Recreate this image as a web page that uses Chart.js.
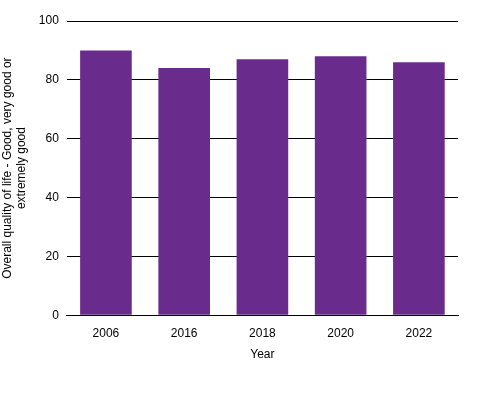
<!DOCTYPE html>
<html><head><script src="https://cdn.jsdelivr.net/npm/chart.js"></script>
<style>body{margin:0}#w{width:502px;height:406px}</style></head>
<body><div id="w"><canvas id="c"></canvas></div>
<script>
const categories=["2006","2016","2018","2020","2022"];
const values=[90,84,87,88,86];
const yTicks=[0,20,40,60,80,100];
new Chart(document.getElementById('c'),{type:'bar',
data:{labels:categories,datasets:[{data:values,backgroundColor:'#6a2c8c',categoryPercentage:0.66,barPercentage:1}]},
options:{responsive:true,maintainAspectRatio:false,animation:false,
layout:{padding:{left:0,right:44,top:21,bottom:40}},
plugins:{legend:{display:false},tooltip:{enabled:false}},
scales:{
x:{grid:{display:false},border:{color:'#000'},ticks:{color:'#000',font:{family:'Liberation Sans',size:12}},
 title:{display:true,text:'Year',color:'#000',font:{family:'Liberation Sans',size:12}}},
y:{min:0,max:100,afterBuildTicks:a=>{a.ticks=yTicks.map(v=>({value:v}))},
 grid:{color:'#000',drawTicks:false},border:{display:false},
 ticks:{color:'#000',padding:8,font:{family:'Liberation Sans',size:12}},
 title:{display:true,text:['Overall quality of life - Good, very good or','extremely good'],color:'#000',font:{family:'Liberation Sans',size:12},padding:{top:0,bottom:2}}}
}}});
</script></body></html>
